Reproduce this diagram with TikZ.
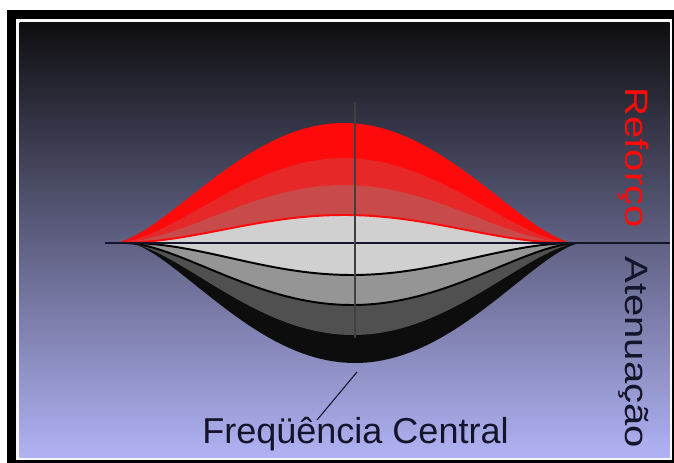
\documentclass[tikz,border=0pt]{standalone}
\usepackage{fontspec}
\setmainfont{Liberation Sans}
\definecolor{bgtop}{HTML}{0E0E10}
\definecolor{bgmid}{HTML}{5E5E86}
\definecolor{bgbot}{HTML}{B0B2F4}
\definecolor{redA}{HTML}{FF0A0A}
\definecolor{redB}{HTML}{E62828}
\definecolor{redC}{HTML}{C94A4A}
\definecolor{grayA}{HTML}{D0D0D0}
\definecolor{grayB}{HTML}{959595}
\definecolor{grayC}{HTML}{505050}
\definecolor{ink}{HTML}{14142A}
\tikzset{declare function={bell(\t,\p)=max(1-\t*\t,0.00001)^\p;}}

\begin{document}
\begin{tikzpicture}[x=0.02cm,y=-0.02cm,
  curve/.style={domain=-1:1,samples=81},
  bigtxt/.style={font=\fontsize{20.5}{24}\selectfont,inner sep=0pt},
  sidetxt/.style={font=\fontsize{18.4}{22}\selectfont,inner sep=0pt,rotate=-90,xscale=1.24,anchor=base west}]
  \useasboundingbox (0,0) rectangle (674,463);

  % frame and background
  \fill[white] (0,0) rectangle (674,463);
  \fill[black] (7,10) rectangle (674,463);
  \fill[white!94!gray] (16,19) rectangle (672,460);
  \shade[top color=bgtop,middle color=bgmid,bottom color=bgbot] (19.5,22.5) rectangle (669.5,457.5);

  % attenuation (below the axis)
  \fill[black!95] plot[curve] ({355+225*\x},{243+120*bell(\x,1.5)}) -- cycle;
  \fill[grayC]    plot[curve] ({353+225*\x},{243+92*bell(\x,1.6)}) -- cycle;
  \fill[grayB]    plot[curve] ({352+225*\x},{243+62*bell(\x,1.7)}) -- cycle;

  % reinforcement (above the axis)
  \fill[redA] plot[curve] ({344+230*\x},{243-120*bell(\x,1.6)}) -- cycle;
  \fill[redB] plot[curve] ({344+230*\x},{243-85*bell(\x,1.8)}) -- cycle;
  \fill[redC] plot[curve] ({344+230*\x},{243-58*bell(\x,2.0)}) -- cycle;

  % flat response band
  \fill[grayA] plot[curve] ({344+230*\x},{243-28*bell(\x,2.3)})
    -- plot[curve,domain=1:-1] ({352+225*\x},{243+32*bell(\x,2.2)}) -- cycle;
  \draw[redA,line width=1.1pt] plot[curve] ({344+230*\x},{243-28*bell(\x,2.3)});
  \draw[black,line width=1.1pt] plot[curve] ({352+225*\x},{243+32*bell(\x,2.2)});
  \draw[black,line width=1.1pt] plot[curve] ({352+225*\x},{243+62*bell(\x,1.7)});

  % axes
  \draw[ink,line width=0.9pt] (105,243) -- (670,243);
  \draw[black!75,line width=0.6pt] (355,102) -- (355,338);

  % labels
  \node[sidetxt,text=redA] (reforco) at (625,87) {Reforço};
  \node[sidetxt,text=ink] (atenuacao) at (625,256) {Atenuação};
  \node[bigtxt,text=ink,anchor=base west] (fc) at (202,443) {Freqüência Central};
  \coordinate (fcfoot) at (357,372);
  \coordinate (fctop) at (317,420);
  \draw[ink,line width=0.6pt] (fcfoot) -- (fctop);
\end{tikzpicture}
\end{document}
